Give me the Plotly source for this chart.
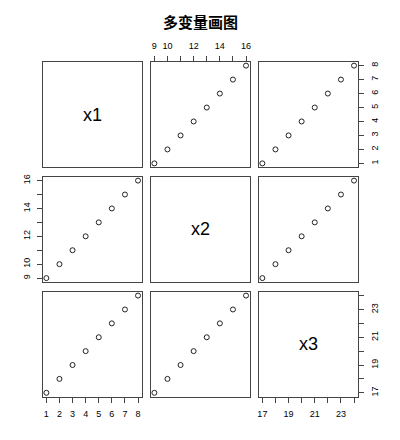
import plotly.graph_objects as go

# Data
var_names = ["x1", "x2", "x3"]
x1 = [1, 2, 3, 4, 5, 6, 7, 8]
x2 = [9, 10, 11, 12, 13, 14, 15, 16]
x3 = [17, 18, 19, 20, 21, 22, 23, 24]
data = [x1, x2, x3]
tick_labels = [[1, 2, 3, 4, 5, 6, 7, 8], [9, 10, 12, 14, 16], [17, 19, 21, 23]]
title_text = "多变量画图"

W, H = 400, 440
col_px = [(42.7, 141.7), (150.7, 249.7), (258.7, 357.7)]
row_px = [(61.7, 167.3), (176.7, 282.0), (291.7, 396.7)]

fig = go.Figure()
font_tick = dict(family="Liberation Sans, Arial, sans-serif", size=9, color="#000")
line_col = "#444"

def rng(v):
    lo, hi = min(v), max(v)
    pad = (hi - lo) * 0.04
    return [lo - pad, hi + pad]

n = 3
k = 0
for i in range(n):
    for j in range(n):
        k += 1
        xa = "xaxis" if k == 1 else f"xaxis{k}"
        ya = "yaxis" if k == 1 else f"yaxis{k}"
        xr = "x" if k == 1 else f"x{k}"
        yr = "y" if k == 1 else f"y{k}"
        xd = [col_px[j][0] / W, col_px[j][1] / W]
        yd = [1 - row_px[i][1] / H, 1 - row_px[i][0] / H]

        xaxis = dict(domain=xd, range=rng(data[j]), anchor=yr, showline=True, mirror=True,
                     linecolor=line_col, linewidth=1, showgrid=False, zeroline=False,
                     tickfont=font_tick, fixedrange=True, automargin=False)
        show_x = (i == n - 1 and j % 2 == 0) or (i == 0 and j % 2 == 1)
        if show_x:
            xaxis.update(side="bottom" if i == n - 1 else "top", ticks="outside", ticklen=5,
                         tickcolor=line_col, tickmode="array", tickvals=tick_labels[j],
                         showticklabels=True, tickangle=0, ticklabelstandoff=3,
                         minor=dict(tickmode="linear", tick0=data[j][0], dtick=1,
                                    ticks="outside", ticklen=5, tickcolor=line_col))
        else:
            xaxis.update(ticks="", showticklabels=False)

        yaxis = dict(domain=yd, range=rng(data[i]), anchor=xr, showline=True, mirror=True,
                     linecolor=line_col, linewidth=1, showgrid=False, zeroline=False,
                     tickfont=font_tick, fixedrange=True, automargin=False)
        show_y = (j == 0 and i % 2 == 1) or (j == n - 1 and i % 2 == 0)
        if show_y:
            yaxis.update(side="left" if j == 0 else "right", ticks="outside", ticklen=5,
                         tickcolor=line_col, tickmode="array", tickvals=tick_labels[i],
                         showticklabels=True, tickangle=-90, ticklabelstandoff=3,
                         minor=dict(tickmode="linear", tick0=data[i][0], dtick=1,
                                    ticks="outside", ticklen=5, tickcolor=line_col))
        else:
            yaxis.update(ticks="", showticklabels=False)

        fig.update_layout(**{xa: xaxis, ya: yaxis})

        if i != j:
            fig.add_trace(go.Scatter(x=data[j], y=data[i], mode="markers", xaxis=xr, yaxis=yr,
                                     marker=dict(symbol="circle-open", size=5, color="#222",
                                                 line=dict(width=1)),
                                     showlegend=False, hoverinfo="skip"))
        else:
            fig.add_trace(go.Scatter(x=[None], y=[None], xaxis=xr, yaxis=yr, showlegend=False))
            fig.add_annotation(x=0.5, y=0.5, xref=f"{xr} domain", yref=f"{yr} domain",
                               xanchor="center", yanchor="middle",
                               text=var_names[i], showarrow=False,
                               font=dict(family="Liberation Sans, Arial, sans-serif", size=18,
                                         color="#000"))

fig.add_annotation(x=0.5, y=1 - 21 / H, xref="paper", yref="paper", text=f"<b>{title_text}</b>",
                   xanchor="center", yanchor="middle", showarrow=False,
                   font=dict(family="Noto Sans CJK SC", size=15, color="#000"))

fig.update_layout(width=W, height=H, margin=dict(l=0, r=0, t=0, b=0),
                  paper_bgcolor="white", plot_bgcolor="white")

fig.write_html("out.html", config={"displayModeBar": False},
               post_script="document.body.style.margin='0';")
